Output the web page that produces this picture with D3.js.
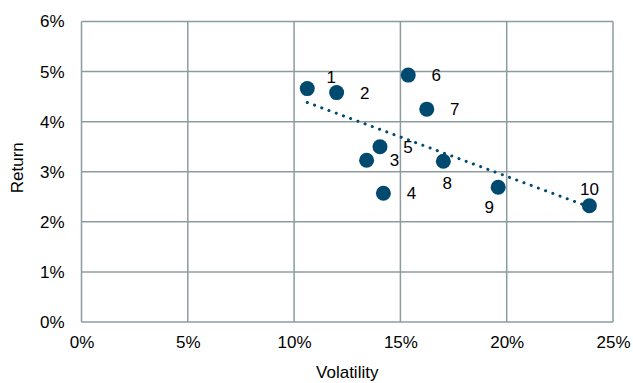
<!DOCTYPE html>
<html>
<head>
<meta charset="utf-8">
<script src="https://cdn.jsdelivr.net/npm/d3@7"></script>
<style>
  body { margin: 0; background: #fff; }
  text { font-family: "Liberation Sans", Arial, sans-serif; fill: #000; }
</style>
</head>
<body>
<div id="chart"></div>
<script>
  // data (percent)
  var labels = ["1", "2", "3", "4", "5", "6", "7", "8", "9", "10"];
  var volatility = [10.62, 12.00, 13.41, 14.20, 14.04, 15.37, 16.24, 17.02, 19.60, 23.89];
  var returns = [4.66, 4.58, 3.23, 2.57, 3.50, 4.93, 4.25, 3.21, 2.69, 2.32];
  var labelPos = ["aboveRight", "right", "right", "right", "right", "right", "right", "below", "belowLeft", "above"];
  var xTicks = [0, 5, 10, 15, 20, 25];
  var yTicks = [0, 1, 2, 3, 4, 5, 6];

  var outerWidth = 633,
      outerHeight = 383,
      margin = { top: 21.5, right: 20, bottom: 61, left: 81.5 },
      width = outerWidth - margin.left - margin.right,
      height = outerHeight - margin.top - margin.bottom;

  var x = d3.scaleLinear().domain([0, 25]).range([0, width]);
  var y = d3.scaleLinear().domain([0, 6]).range([height, 0]);

  var grid = "#8c9c9e",
      dark = "#004a70";

  var svg = d3.select("#chart").append("svg")
      .attr("width", outerWidth)
      .attr("height", outerHeight)
    .append("g")
      .attr("transform", "translate(" + margin.left + "," + margin.top + ")");

  // gridlines
  svg.append("g")
    .selectAll("line")
    .data(yTicks)
    .join("line")
      .attr("x1", 0).attr("x2", width)
      .attr("y1", d => y(d)).attr("y2", d => y(d))
      .attr("stroke", grid).attr("stroke-width", 1.5);

  svg.append("g")
    .selectAll("line")
    .data(xTicks)
    .join("line")
      .attr("x1", d => x(d)).attr("x2", d => x(d))
      .attr("y1", 0).attr("y2", height)
      .attr("stroke", grid).attr("stroke-width", 1.5);

  // axes (labels only, lines are the grid)
  var yAxis = d3.axisLeft(y).tickValues(yTicks).tickSize(0).tickPadding(17)
      .tickFormat(d => d + "%");
  var xAxis = d3.axisBottom(x).tickValues(xTicks).tickSize(0).tickPadding(14)
      .tickFormat(d => d + "%");

  svg.append("g")
      .call(yAxis)
      .call(g => g.select(".domain").remove())
      .selectAll("text").attr("font-size", "17px").attr("font-family", null);

  svg.append("g")
      .attr("transform", "translate(0," + height + ")")
      .call(xAxis)
      .call(g => g.select(".domain").remove())
      .selectAll("text").attr("font-size", "17px").attr("font-family", null);

  svg.append("text")
      .attr("transform", "translate(" + (-64) + "," + (height / 2 - 4) + ") rotate(-90)")
      .attr("text-anchor", "middle")
      .attr("dy", "0.35em")
      .attr("font-size", "17px")
      .text("Return");

  svg.append("text")
      .attr("x", width / 2)
      .attr("y", height + 56)
      .attr("text-anchor", "middle")
      .attr("font-size", "17px")
      .text("Volatility");

  var data = labels.map((d, i) => ({ name: d, x: volatility[i], y: returns[i], pos: labelPos[i] }));

  // linear trendline (least squares)
  var mx = d3.mean(data, d => d.x),
      my = d3.mean(data, d => d.y),
      slope = d3.sum(data, d => (d.x - mx) * (d.y - my)) / d3.sum(data, d => (d.x - mx) * (d.x - mx)),
      x0 = d3.min(volatility),
      x1 = d3.max(volatility);

  svg.append("line")
      .attr("x1", x(x0)).attr("y1", y(my + slope * (x0 - mx)))
      .attr("x2", x(x1)).attr("y2", y(my + slope * (x1 - mx)))
      .attr("stroke", dark)
      .attr("stroke-width", 3)
      .attr("stroke-linecap", "round")
      .attr("stroke-dasharray", "0.1 7.6");

  svg.append("g")
    .selectAll("circle")
    .data(data)
    .join("circle")
      .attr("cx", d => x(d.x))
      .attr("cy", d => y(d.y))
      .attr("r", 7.5)
      .attr("fill", dark);

  var offsets = {
    right: [28, 0],
    aboveRight: [24, -12],
    below: [4, 22],
    belowLeft: [-9, 20],
    above: [0, -17]
  };

  svg.append("g")
    .selectAll("text")
    .data(data)
    .join("text")
      .attr("x", d => x(d.x) + offsets[d.pos][0])
      .attr("y", d => y(d.y) + offsets[d.pos][1])
      .attr("dy", "0.35em")
      .attr("text-anchor", "middle")
      .attr("font-size", "17px")
      .text(d => d.name);
</script>
</body>
</html>
